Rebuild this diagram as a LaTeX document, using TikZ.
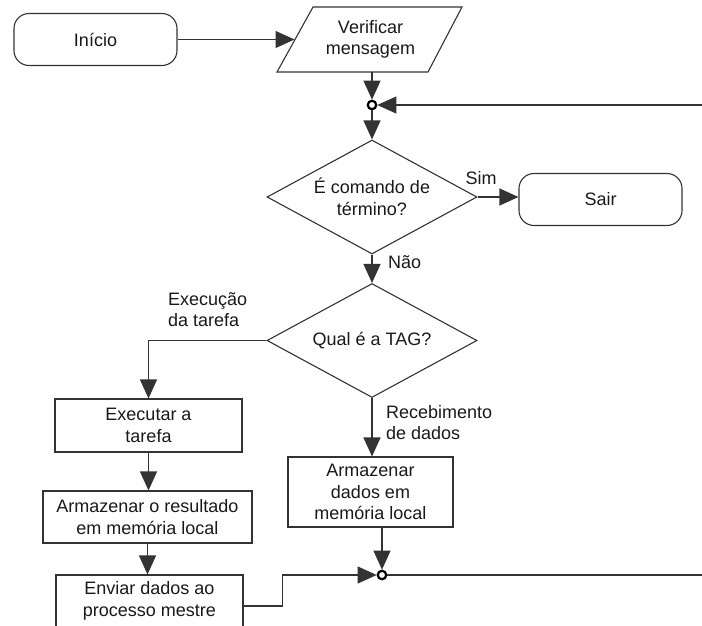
\documentclass[tikz,border=0pt]{standalone}
\usepackage{fontspec}
\setmainfont{Liberation Sans}
\usetikzlibrary{shapes.geometric, arrows.meta, calc}
\begin{document}
\begin{tikzpicture}[x=1pt, y=-1pt,
  every node/.style={font=\fontsize{18}{21.5}\selectfont, text=black!90},
  line/.style={draw=black!80, line width=1.1pt},
  arr/.style={line, -{Triangle[length=19pt, width=17pt]}},
  terminal/.style={draw=black!80, line width=1.1pt, rounded corners=15pt,
    minimum width=163pt, minimum height=52pt},
  procbox/.style={draw=black!80, line width=1.1pt, align=center, inner sep=0pt},
  decision/.style={draw=black!80, line width=1.1pt, diamond, aspect=1.84,
    minimum width=210pt, minimum height=114pt, inner sep=0pt, align=center},
  junction/.style={circle, draw=black, line width=2.2pt, minimum size=8.5pt, inner sep=0pt},
  lbl/.style={align=left, inner sep=0pt}
]
\clip (0,0) rectangle (702,625);

% start and input
\node[terminal] (inicio) at (95.5,39.5) {Início};
\draw[line] (277,72) -- (313,7) -- (462,7) -- (428,72) -- cycle;
\node[align=center, minimum width=150pt, minimum height=65pt, inner sep=0pt]
  (verif) at (370.5,39.5) {Verificar\\mensagem};
\coordinate (verifin) at (294.5,39.5);

% loop entry junction
\node[junction] (j1) at (372,105) {};
\coordinate (loopin) at (702,105);

% decisions
\node[decision] (d1) at (372,197) {É comando de\\término?};
\node[terminal] (sair) at (600.5,199.5) {Sair};
\node[decision] (d2) at (372,340.5) {Qual é a TAG?};

% task branch
\node[procbox, minimum width=187pt, minimum height=53pt] (exec) at (148.5,425.5) {Executar a\\tarefa};
\node[procbox, minimum width=209pt, minimum height=52pt] (armres) at (147.5,517) {Armazenar o resultado\\em memória local};
\node[procbox, minimum width=187pt, minimum height=52pt] (enviar) at (149.5,601) {Enviar dados ao\\processo mestre};

% data branch
\node[procbox, minimum width=165pt, minimum height=70pt] (armdados) at (370.5,492) {Armazenar\\dados em\\memória local};

% loop exit junction
\node[junction] (j2) at (382,575) {};
\coordinate (loopout) at (702,575);

% branch labels
\node[lbl] (lsim) at (481,178) {Sim};
\node[lbl, anchor=west] (lnao) at (388,262) {Não};
\node[lbl, anchor=west] (lexec) at (168,309.5) {Execução\\da tarefa};
\node[lbl, anchor=west] (lrec) at (386,422.5) {Recebimento\\de dados};

% connectors
\draw[arr] (inicio.east) -- (verifin);
\draw[arr] (verif.south -| j1) -- (j1);
\draw[arr] (loopin) -- (j1);
\draw[arr] (j1.south) -- (d1.north);
\draw[arr] (d1.east) -- (d1.east -| sair.west);
\draw[arr] (d1.south) -- (d2.north);
\draw[arr] (d2.west) -| (exec.north);
\draw[arr] (d2.south) -- (d2.south |- armdados.north);
\draw[arr] (exec.south) -- (exec.south |- armres.north);
\draw[arr] (armres.south) -- (armres.south |- enviar.north);
\draw[arr] (armdados.south -| j2) -- (j2);
\draw[arr] ($(enviar.east)+(0,5)$) -- ++(39,0) |- (j2);
\draw[line] (j2) -- (loopout);
\end{tikzpicture}
\end{document}
